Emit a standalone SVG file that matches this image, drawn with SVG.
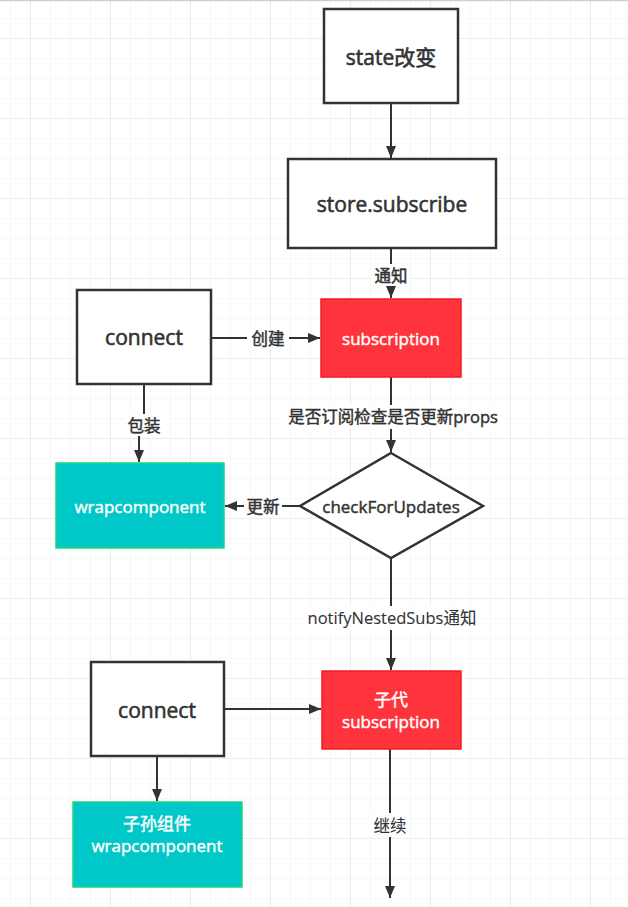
<svg xmlns="http://www.w3.org/2000/svg" width="628" height="907" viewBox="0 0 628 907">
<defs>
<pattern id="gMinor" width="20" height="20" patternUnits="userSpaceOnUse" x="10" y="18">
<path d="M0,0 H20 M0,0 V20" fill="none" stroke="#eef0f3" stroke-width="1"/>
</pattern>
<pattern id="gMajor" width="80" height="80" patternUnits="userSpaceOnUse" x="30" y="38">
<path d="M0,0 H80 M0,0 V80" fill="none" stroke="#e3e6ea" stroke-width="1.2"/>
</pattern>
<marker id="arr" viewBox="0 0 12 10" refX="12" refY="5" markerWidth="6" markerHeight="5" orient="auto" markerUnits="strokeWidth">
<path d="M0,0 L12,5 L0,10 Z" fill="#333"/>
</marker>
</defs>
<style>
.box{fill:#fff;stroke:#333;stroke-width:2.5}
.red{fill:#ff333b;stroke:#f01e26;stroke-width:1.5}
.cyan{fill:#00c8c8;stroke:#20d67a;stroke-width:1.5}
text{font-family:"Open Sans","Noto Sans CJK SC",sans-serif;text-anchor:middle;dominant-baseline:central}
.big{font-size:21px;font-weight:400;fill:#333;stroke:#333;stroke-width:0.6}
.wt{font-size:17px;font-weight:400;fill:#fff;stroke:#fff;stroke-width:0.45}
.lbl{font-size:16.5px;font-weight:400;fill:#333;stroke:#333;stroke-width:0.45}
.thin{stroke-width:0.1}
.lbg{fill:#fff}
.ln{fill:none;stroke:#333;stroke-width:2;marker-end:url(#arr)}
</style>
<rect width="628" height="907" fill="#fff"/>
<rect width="628" height="907" fill="url(#gMinor)"/>
<rect width="628" height="907" fill="url(#gMajor)"/>
<line x1="0" y1="0.5" x2="628" y2="0.5" stroke="#cfcfcf" stroke-width="1.5"/>

<g id="connectors">
<path class="ln" d="M391,103 V158"/>
<path class="ln" d="M391,248 V298"/>
<path class="ln" d="M211,338 H320"/>
<path class="ln" d="M391,377 V452"/>
<path class="ln" d="M144,384 V425 H139 V462"/>
<path class="ln" d="M300,506 H225"/>
<path class="ln" d="M391,558 V670"/>
<path class="ln" d="M224,709 H321"/>
<path class="ln" d="M157,756 V801"/>
<path class="ln" d="M390,749 V898"/>
<rect class="lbg" x="372" y="264" width="38" height="22"/>
<text class="lbl" x="391" y="275">通知</text>
<rect class="lbg" x="247" y="327" width="42" height="22"/>
<text class="lbl" x="268" y="338">创建</text>
<rect class="lbg" x="282" y="405" width="222" height="24"/>
<text class="lbl" x="393" y="416">是否订阅检查是否更新props</text>
<rect class="lbg" x="123" y="414" width="42" height="22"/>
<text class="lbl" x="144" y="425">包装</text>
<rect class="lbg" x="244" y="495" width="38" height="22"/>
<text class="lbl" x="263" y="506">更新</text>
<rect class="lbg" x="302" y="606" width="180" height="24"/>
<text class="lbl thin" x="392" y="617">notifyNestedSubs通知</text>
<rect class="lbg" x="370" y="813" width="40" height="24"/>
<text class="lbl thin" x="390" y="825">继续</text>
</g>

<g id="state">
<rect class="box" x="324" y="9" width="134" height="94"/>
<text class="big" x="391" y="57">state改变</text>
</g>
<g id="storeSubscribe">
<rect class="box" x="288" y="159" width="208" height="89"/>
<text class="big" x="392" y="204">store.subscribe</text>
</g>
<g id="subscription">
<rect class="red" x="321" y="299" width="140" height="78"/>
<text class="wt" x="391" y="338">subscription</text>
</g>
<g id="connect1">
<rect class="box" x="77" y="290" width="134" height="94"/>
<text class="big" x="144" y="337">connect</text>
</g>
<g id="wrapcomponent">
<rect class="cyan" x="56" y="463" width="168" height="85"/>
<text class="wt" x="140" y="506">wrapcomponent</text>
</g>
<g id="checkForUpdates">
<polygon class="box" points="391,453 483,506 391,558 300,506"/>
<text class="lbl" x="391" y="506" style="font-size:17px">checkForUpdates</text>
</g>
<g id="childSubscription">
<rect class="red" x="322" y="671" width="139" height="78"/>
<text class="wt" x="391" y="699">子代</text>
<text class="wt" x="391" y="721">subscription</text>
</g>
<g id="connect2">
<rect class="box" x="91" y="662" width="133" height="94"/>
<text class="big" x="157" y="710">connect</text>
</g>
<g id="childWrap">
<rect class="cyan" x="73" y="802" width="169" height="85"/>
<text class="wt" x="157" y="823">子孙组件</text>
<text class="wt" x="157" y="845">wrapcomponent</text>
</g>
</svg>
